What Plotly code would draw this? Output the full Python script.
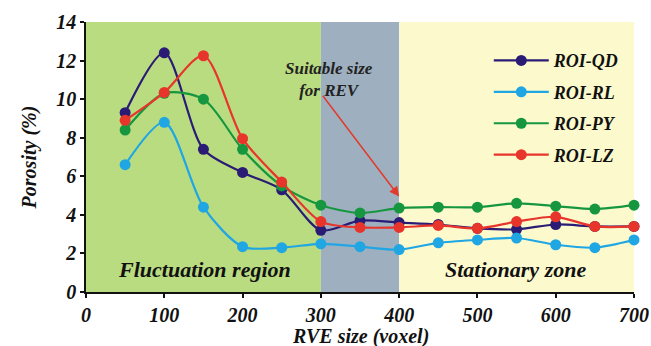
import plotly.graph_objects as go

rve_size = [50, 100, 150, 200, 250, 300, 350, 400, 450, 500, 550, 600, 650, 700]
roi_qd = [9.3, 12.4, 7.4, 6.2, 5.3, 3.2, 3.7, 3.6, 3.5, 3.3, 3.25, 3.5, 3.4, 3.4]
roi_rl = [6.6, 8.8, 4.4, 2.35, 2.3, 2.5, 2.35, 2.2, 2.55, 2.7, 2.8, 2.45, 2.3, 2.7]
roi_py = [8.4, 10.3, 10.0, 7.4, 5.5, 4.5, 4.1, 4.35, 4.4, 4.4, 4.6, 4.45, 4.3, 4.5]
roi_lz = [8.9, 10.35, 12.25, 7.95, 5.7, 3.65, 3.35, 3.35, 3.45, 3.3, 3.65, 3.9, 3.4, 3.4]

series_names = ["ROI-QD", "ROI-RL", "ROI-PY", "ROI-LZ"]
series_values = [roi_qd, roi_rl, roi_py, roi_lz]
series_colors = ["#2a1b74", "#1fa6e3", "#16973f", "#e8352b"]

regions = [(0, 300, "#badc81"), (300, 400, "#9eb0bf"), (400, 700, "#fcfacd")]

x_ticks = [0, 100, 200, 300, 400, 500, 600, 700]
y_ticks = [0, 2, 4, 6, 8, 10, 12, 14]

FONT = "Liberation Serif"

def f(size, color="#111"):
    return dict(family=FONT, size=size, color=color, weight="bold", style="italic")

fig = go.Figure()
for name, vals, col in zip(series_names, series_values, series_colors):
    fig.add_trace(go.Scatter(
        x=rve_size, y=vals, name=name, mode="lines+markers",
        line=dict(color=col, width=2.2, shape="spline", smoothing=0.8),
        marker=dict(color=col, size=11),
        cliponaxis=False, legendgroup=name,
    ))

for x0, x1, c in regions:
    fig.add_shape(type="rect", xref="x", yref="y", x0=x0, x1=x1, y0=0, y1=14,
                  fillcolor=c, line=dict(width=0), layer="below")

fig.add_annotation(x=152, y=1.15, xref="x", yref="y", text="Fluctuation region",
                   showarrow=False, font=f(22))
fig.add_annotation(x=548, y=1.15, xref="x", yref="y", text="Stationary zone",
                   showarrow=False, font=f(22))
fig.add_annotation(x=311, y=11.0, xref="x", yref="y",
                   text="Suitable size<br>for REV", showarrow=False, font=f(17, "#222"))
fig.add_annotation(x=400, y=4.95, xref="x", yref="y", ax=301, ay=10.25,
                   axref="x", ayref="y", text="", showarrow=True,
                   arrowhead=2, arrowsize=1.3, arrowwidth=1.5, arrowcolor="#e23a2c")
# x-axis title
fig.add_annotation(x=0.5, y=-0.165, xref="paper", yref="paper", yanchor="middle",
                   text="RVE size (voxel)", showarrow=False, font=f(20))

axis_common = dict(ticks="outside", ticklen=4, tickwidth=1.5, tickcolor="#111",
                   showline=True, linecolor="#111", linewidth=1.5, showgrid=False,
                   zeroline=False, tickfont=f(20), automargin=False)
fig.update_xaxes(range=[0, 700], tickvals=x_ticks, **axis_common)
fig.update_yaxes(range=[0, 14], tickvals=y_ticks,
                 title=dict(text="Porosity (%)", standoff=14, font=f(20)),
                 **axis_common)

fig.update_layout(
    width=651, height=346,
    margin=dict(l=86, r=17, t=22, b=54, autoexpand=False),
    plot_bgcolor="white", paper_bgcolor="white",
    legend=dict(x=0.735, y=0.925, xanchor="left", yanchor="top",
                bgcolor="rgba(0,0,0,0)", tracegroupgap=5, itemwidth=55,
                font=f(18)),
)

fig.write_html("out.html")
